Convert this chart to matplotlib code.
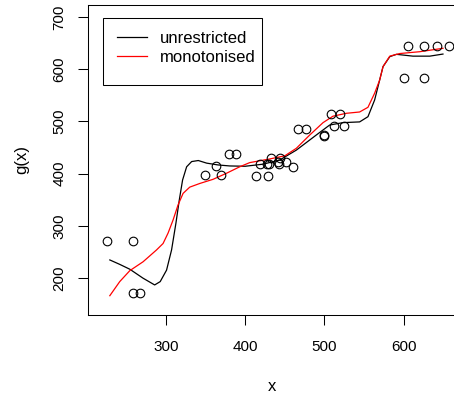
import matplotlib
matplotlib.use('Agg')
import matplotlib.pyplot as plt
from matplotlib.patches import Rectangle

plt.rcParams['font.family'] = ['Liberation Sans', 'DejaVu Sans']

# observed points
x_obs = [226, 259, 259, 267, 349.5, 363.4, 369.6, 379.3, 389, 414, 419, 427, 429, 430,
         432, 441, 443, 444, 451, 460, 467, 477, 499, 500, 508, 512, 520, 525,
         600, 605, 625, 626, 642, 657]
y_obs = [271, 271, 171, 171, 397, 415, 397, 437, 437, 395, 418, 418, 395, 418,
         430, 423, 418, 430, 423, 413, 485, 485, 472, 474, 514, 491, 514, 491,
         584, 645, 584, 645, 645, 645]

# unrestricted fit
x_unr = [229.5, 242, 254.7, 271.3, 286, 293, 301, 307.3, 312.8, 317, 321.2, 326.3,
         332.6, 341, 351.5, 366, 380.6, 400, 422.6, 443.6, 464.6, 489.8, 506.5,
         523.3, 544.3, 554.8, 563.2, 569.5, 573.8, 582.3, 590.6, 611.5, 632.7, 649.3]
y_unr = [234.5, 226, 216.7, 199.6, 186.6, 193, 215, 253.6, 305, 349, 387.7, 413,
         423, 425, 420, 416.5, 414.6, 414, 418, 426, 445, 474, 493,
         497.6, 499, 509, 541, 579, 605, 624, 628.5, 625, 625, 629]

# monotonised fit
x_mon = [229.5, 242, 254.7, 271.4, 288.3, 296.6, 302.9, 309.2, 315.5, 321.8, 330.2,
         342.8, 359.6, 376.4, 393.2, 405.8, 431, 450, 464.6, 481.5, 498.2, 510.8,
         527.6, 544.3, 554.8, 563.2, 569.5, 573.8, 582.3, 594.9, 620, 649.3]
y_mon = [166, 193, 214, 231, 253.6, 266, 286, 311, 340, 362, 374,
         381, 389, 400.5, 413, 421, 428, 434, 448.5, 474, 497.6, 510,
         515.5, 518, 527, 554, 579, 605, 625, 630, 633.5, 640]

fig = plt.figure(figsize=(4.54, 3.96), dpi=100)
ax = fig.add_axes([88/454, 81/396, 369/454, 310/396])

ax.plot(x_unr, y_unr, color='black', lw=0.9, label='unrestricted')
ax.plot(x_mon, y_mon, color='red', lw=0.9, label='monotonised')
ax.plot(x_obs, y_obs, 'o', mfc='none', mec='black', mew=0.8, ms=6.2)

ax.set_xlim(202, 667)
ax.set_ylim(129, 723)
ax.set_xticks([300, 400, 500, 600])
ax.set_yticks([200, 300, 400, 500, 600, 700])
ax.tick_params(axis='both', length=7.5, width=0.75, labelsize=11)
ax.tick_params(axis='x', pad=10.5)
ax.tick_params(axis='y', pad=8)
for lab in ax.get_yticklabels():
    lab.set_rotation(90)
    lab.set_va('center')
for s in ax.spines.values():
    s.set_linewidth(0.75)

ax.set_xlabel('x', fontsize=12)
ax.set_ylabel('g(x)', fontsize=12)
ax.xaxis.set_label_coords(0.5, -0.205)
ax.yaxis.set_label_coords(-0.16, 0.5)

leg = ax.legend(loc='upper left', bbox_to_anchor=(116.7/454, 1 - 31/396),
                bbox_transform=fig.transFigure, borderaxespad=0, borderpad=0,
                fontsize=12, handlelength=1.8, handletextpad=0.8,
                labelspacing=0.25, frameon=False)
fig.patches.append(Rectangle((103/454, 1 - 85/396), 159/454, 67/396,
                             transform=fig.transFigure, fill=False,
                             ec='black', lw=0.75))

fig.savefig('out.png', dpi=100)
